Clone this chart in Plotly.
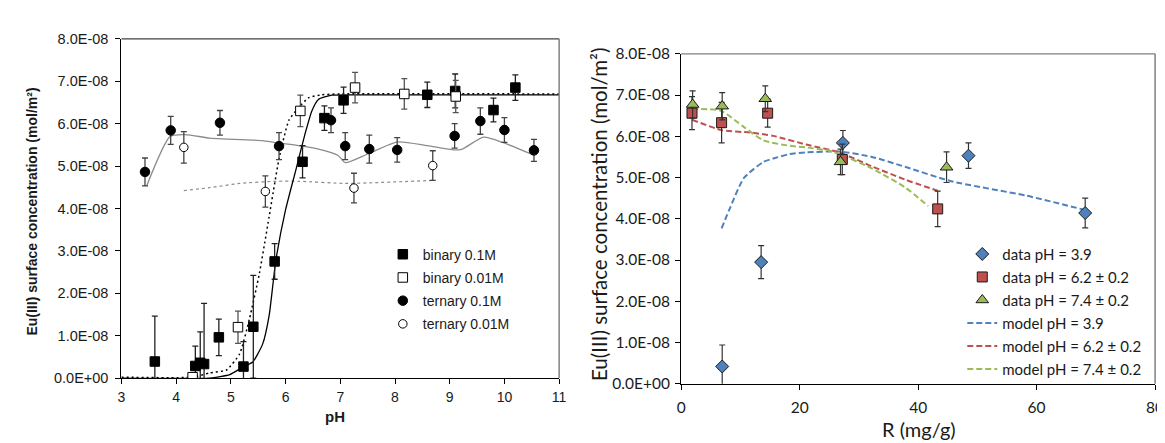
import plotly.graph_objects as go

# ---------------- Left panel: Eu(III) vs pH (values in units of 1e-8 mol/m2) ----------------
b01_ph = [3.61, 4.35, 4.44, 4.51, 4.78, 5.23, 5.41, 5.80, 6.31, 6.71, 7.06, 8.59, 9.10, 9.80, 10.20]
b01_q = [0.39, 0.285, 0.36, 0.33, 0.96, 0.27, 1.21, 2.75, 5.10, 6.13, 6.55, 6.68, 6.77, 6.32, 6.85]
b01_err = [1.07, 0.47, 0.73, 1.43, 0.43, 0.59, 1.21, 0.42, 0.38, 0.29, 0.31, 0.30, 0.40, 0.28, 0.30]

b001_ph = [4.30, 5.13, 6.27, 7.27, 8.17, 9.11]
b001_q = [0.02, 1.20, 6.30, 6.85, 6.70, 6.64]
b001_err = [0.05, 0.38, 0.37, 0.36, 0.36, 0.38]

t01_ph = [3.43, 3.90, 4.80, 5.88, 6.83, 7.09, 7.53, 8.04, 9.09, 9.56, 10.00, 10.54]
t01_q = [4.86, 5.84, 6.02, 5.47, 6.08, 5.47, 5.40, 5.38, 5.71, 6.06, 5.85, 5.37]
t01_err = [0.33, 0.33, 0.29, 0.32, 0.29, 0.32, 0.33, 0.29, 0.29, 0.31, 0.29, 0.26]

t001_ph = [4.14, 5.63, 7.25, 8.69]
t001_q = [5.44, 4.40, 4.48, 5.01]
t001_err = [0.37, 0.37, 0.35, 0.35]

m_b01_ph = [3.0, 4.61, 4.98, 5.22, 5.40, 5.58, 5.70, 5.82, 6.00, 6.18, 6.36, 6.48, 6.60, 6.84, 7.20, 11.0]
m_b01_q = [0.0, 0.0, 0.08, 0.26, 0.38, 0.80, 1.48, 2.76, 3.97, 4.87, 5.78, 6.30, 6.57, 6.67, 6.68, 6.68]

m_b001_ph = [3.0, 4.30, 4.61, 4.92, 5.16, 5.34, 5.52, 5.70, 5.88, 6.06, 6.24, 6.42, 6.66, 7.00, 11.0]
m_b001_q = [0.02, 0.02, 0.12, 0.19, 0.57, 1.40, 2.46, 3.81, 5.17, 6.08, 6.38, 6.61, 6.68, 6.70, 6.70]

m_t01_ph = [3.46, 3.89, 4.16, 4.61, 4.86, 5.57, 5.82, 6.24, 6.60, 6.96, 7.09, 7.51, 8.05, 8.59, 9.08, 9.23, 9.62, 9.98, 10.55]
m_t01_q = [4.53, 5.70, 5.74, 5.66, 5.64, 5.60, 5.55, 5.48, 5.40, 5.25, 5.08, 5.29, 5.57, 5.48, 5.38, 5.40, 5.68, 5.55, 5.25]

m_t001_ph = [4.14, 4.61, 5.16, 5.82, 6.24, 7.09, 7.69, 8.68]
m_t001_q = [4.42, 4.49, 4.59, 4.64, 4.64, 4.59, 4.61, 4.66]

# ---------------- Right panel: Eu(III) vs R ----------------
d39_R = [6.93, 13.5, 27.3, 48.5, 68.2]
d39_q = [0.42, 2.95, 5.84, 5.53, 4.14]
d39_err = [0.52, 0.40, 0.30, 0.31, 0.36]

d62_R = [1.83, 6.83, 14.6, 27.2, 43.3]
d62_q = [6.56, 6.33, 6.56, 5.44, 4.24]
d62_err = [0.40, 0.49, 0.34, 0.37, 0.43]

d74_R = [1.94, 6.93, 14.2, 26.9, 44.8]
d74_q = [6.77, 6.73, 6.91, 5.38, 5.25]
d74_err = [0.33, 0.33, 0.31, 0.31, 0.37]

m39_R = [6.83, 8.33, 10.6, 13.9, 15.55, 18.3, 21.1, 26.7, 32.2, 37.8, 45.6, 58.3, 68.0]
m39_q = [3.77, 4.29, 4.99, 5.38, 5.46, 5.57, 5.61, 5.63, 5.50, 5.26, 4.91, 4.56, 4.22]

m62_R = [1.83, 6.83, 11.7, 15.55, 21.1, 26.7, 32.2, 37.8, 43.3]
m62_q = [6.40, 6.15, 6.09, 6.01, 5.80, 5.61, 5.27, 4.95, 4.68]

m74_R = [1.83, 6.67, 10.55, 13.9, 18.3, 21.1, 25.0, 26.7, 32.2, 37.8, 41.7]
m74_q = [6.66, 6.62, 6.23, 5.90, 5.77, 5.73, 5.65, 5.57, 5.22, 4.76, 4.31]

y_tickvals = [0, 1, 2, 3, 4, 5, 6, 7, 8]
y_ticktext = ["0.0E+00", "1.0E-08", "2.0E-08", "3.0E-08", "4.0E-08",
              "5.0E-08", "6.0E-08", "7.0E-08", "8.0E-08"]
left_xticks = [3, 4, 5, 6, 7, 8, 9, 10, 11]
right_xticks = [0, 20, 40, 60, 80]

W, H = 1165, 443
ARIAL = "Liberation Sans, Arial, sans-serif"
CAL = "Lato, Carlito, Calibri, sans-serif"

fig = go.Figure()

# ---- left model curves ----
fig.add_trace(go.Scatter(x=m_t01_ph, y=m_t01_q, mode="lines", line=dict(color="#8c8c8c", width=1.3, shape="spline", smoothing=0.6),
                         showlegend=False, xaxis="x", yaxis="y", hoverinfo="skip"))
fig.add_trace(go.Scatter(x=m_t001_ph, y=m_t001_q, mode="lines", line=dict(color="#8c8c8c", width=1.2, dash="3px,3px", shape="spline", smoothing=0.6),
                         showlegend=False, xaxis="x", yaxis="y", hoverinfo="skip"))
fig.add_trace(go.Scatter(x=m_b01_ph, y=m_b01_q, mode="lines", line=dict(color="black", width=1.3, shape="spline", smoothing=0.5),
                         showlegend=False, xaxis="x", yaxis="y", hoverinfo="skip"))
fig.add_trace(go.Scatter(x=m_b001_ph, y=m_b001_q, mode="lines", line=dict(color="black", width=1.5, dash="2px,3px", shape="spline", smoothing=0.5),
                         showlegend=False, xaxis="x", yaxis="y", hoverinfo="skip"))

# ---- left data ----
def errbar(vals, color):
    return dict(type="data", array=vals, visible=True, color=color, thickness=1.3, width=3)

fig.add_trace(go.Scatter(x=b01_ph, y=b01_q, mode="markers", name="binary 0.1M",
                         marker=dict(symbol="square", size=9.5, color="black", line=dict(color="black", width=1)),
                         error_y=errbar(b01_err, "#222222"), xaxis="x", yaxis="y", legend="legend", legendgroup="a"))
fig.add_trace(go.Scatter(x=b001_ph, y=b001_q, mode="markers", name="binary 0.01M",
                         marker=dict(symbol="square", size=9.5, color="white", line=dict(color="black", width=1)),
                         error_y=errbar(b001_err, "#555555"), xaxis="x", yaxis="y", legend="legend", legendgroup="b"))
fig.add_trace(go.Scatter(x=t01_ph, y=t01_q, mode="markers", name="ternary 0.1M",
                         marker=dict(symbol="circle", size=9.5, color="black", line=dict(color="black", width=1)),
                         error_y=errbar(t01_err, "#444444"), xaxis="x", yaxis="y", legend="legend", legendgroup="c"))
fig.add_trace(go.Scatter(x=t001_ph, y=t001_q, mode="markers", name="ternary 0.01M",
                         marker=dict(symbol="circle", size=8.5, color="white", line=dict(color="black", width=1)),
                         error_y=errbar(t001_err, "#444444"), xaxis="x", yaxis="y", legend="legend", legendgroup="d"))

# ---- right model curves ----
BLUE, RED, GREEN = "#4F81BD", "#C0504D", "#9BBB59"
for xs, ys, col, nm, rk in [(m39_R, m39_q, BLUE, "model pH = 3.9", 4),
                            (m62_R, m62_q, RED, "model pH = 6.2 ± 0.2", 5),
                            (m74_R, m74_q, GREEN, "model pH = 7.4 ± 0.2", 6)]:
    fig.add_trace(go.Scatter(x=xs, y=ys, mode="lines", name=nm,
                             line=dict(color=col, width=2, dash="6px,3px", shape="spline", smoothing=0.6),
                             xaxis="x2", yaxis="y2", legend="legend2", legendrank=rk, legendgroup="g%d" % rk,
                             hoverinfo="skip"))

# ---- right data ----
for xs, ys, es, col, sym, sz, nm, rk in [(d39_R, d39_q, d39_err, BLUE, "diamond", 10, "data pH = 3.9", 1),
                                         (d62_R, d62_q, d62_err, RED, "square", 10, "data pH = 6.2 ± 0.2", 2),
                                         (d74_R, d74_q, d74_err, GREEN, "triangle-up", 11, "data pH = 7.4 ± 0.2", 3)]:
    fig.add_trace(go.Scatter(x=xs, y=ys, mode="markers", name=nm,
                             marker=dict(symbol=sym, size=sz, color=col, line=dict(color="#1a1a1a", width=1)),
                             error_y=dict(type="data", array=es, visible=True, color="#333333", thickness=1.2, width=3),
                             xaxis="x2", yaxis="y2", legend="legend2", legendrank=rk, legendgroup="g%d" % rk))

# plot-area geometry in pixels
L1, R1, T1, B1 = 110.7, 553.3, 21.7, 375.3
L2, R2, T2, B2 = 676.7, 1156.0, 37.3, 381.3

def px(xv):
    return xv / W

def py(yv):
    return 1 - yv / H

axis_common = dict(showgrid=False, zeroline=False, showline=True, linecolor="black", linewidth=1.3,
                   ticks="outside", ticklen=5, tickcolor="black", tickwidth=1)

fig.update_layout(
    width=W, height=H, margin=dict(l=0, r=0, t=0, b=0),
    paper_bgcolor="white", plot_bgcolor="white",
    xaxis=dict(domain=[px(L1), px(R1)], range=[3, 11], tickvals=left_xticks,
               tickfont=dict(family=ARIAL, size=14, color="#1a1a1a"), ticklabelstandoff=1,
               anchor="y", **axis_common),
    yaxis=dict(domain=[py(B1), py(T1)], range=[0, 8], tickvals=y_tickvals, ticktext=y_ticktext,
               tickfont=dict(family=ARIAL, size=14.5, color="#1a1a1a"), ticklabelstandoff=4,
               anchor="x", **axis_common),
    xaxis2=dict(domain=[px(L2), px(R2)], range=[0, 80], tickvals=right_xticks,
                tickfont=dict(family=CAL, size=15.5, color="#1a1a1a"), ticklabelstandoff=4,
                anchor="y2", **axis_common),
    yaxis2=dict(domain=[py(B2), py(T2)], range=[0, 8], tickvals=y_tickvals, ticktext=y_ticktext,
                tickfont=dict(family=CAL, size=15.5, color="#1a1a1a"), ticklabelstandoff=2,
                anchor="x2", **axis_common),
    legend=dict(x=px(375), y=py(230), xanchor="left", yanchor="top", bgcolor="rgba(0,0,0,0)",
                font=dict(family=ARIAL, size=14, color="#1a1a1a"), itemwidth=30,
                traceorder="grouped", tracegroupgap=2),
    legend2=dict(x=px(961), y=py(229), xanchor="left", yanchor="top", bgcolor="rgba(0,0,0,0)",
                 font=dict(family=CAL, size=15, color="#1a1a1a"), itemwidth=30,
                 traceorder="grouped", tracegroupgap=0.5),
    showlegend=True,
)

# top/right frame lines
fig.add_shape(type="line", xref="paper", yref="paper", x0=px(L1), x1=px(R1), y0=py(T1), y1=py(T1),
              line=dict(color="#404040", width=1.3))
fig.add_shape(type="line", xref="paper", yref="paper", x0=px(R1), x1=px(R1), y0=py(T1), y1=py(B1),
              line=dict(color="#808080", width=1.5))
fig.add_shape(type="line", xref="paper", yref="paper", x0=px(L2), x1=px(R2), y0=py(T2), y1=py(T2),
              line=dict(color="#808080", width=1.3))
fig.add_shape(type="line", xref="paper", yref="paper", x0=px(R2), x1=px(R2), y0=py(T2), y1=py(B2),
              line=dict(color="#808080", width=1.5))

# axis titles
fig.add_annotation(text="<b>Eu(III) surface concentration (mol/m²)</b>", xref="paper", yref="paper",
                   x=px(20), y=py(202), xanchor="center", yanchor="middle", textangle=-90, showarrow=False,
                   font=dict(family=ARIAL, size=14, color="#1a1a1a"))
fig.add_annotation(text="<b>pH</b>", xref="paper", yref="paper", x=px(327), y=py(415),
                   xanchor="center", yanchor="middle", showarrow=False,
                   font=dict(family=ARIAL, size=15, color="#1a1a1a"))
fig.add_annotation(text="Eu(III) surface concentration (mol/m²)", xref="paper", yref="paper",
                   x=px(593), y=py(204), xanchor="center", yanchor="middle", textangle=-90, showarrow=False,
                   font=dict(family=CAL, size=20.5, color="#1a1a1a"))
fig.add_annotation(text="R (mg/g)", xref="paper", yref="paper", x=px(917), y=py(428),
                   xanchor="center", yanchor="middle", showarrow=False,
                   font=dict(family=CAL, size=20, color="#1a1a1a"))

fig.write_html("out.html")
